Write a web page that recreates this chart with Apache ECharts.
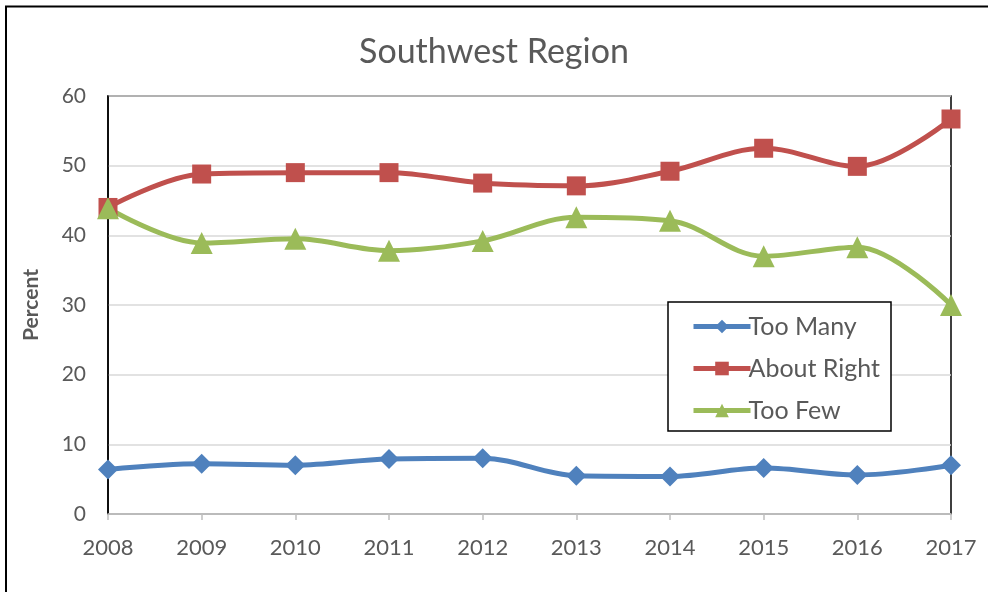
<!DOCTYPE html>
<html>
<head>
<meta charset="utf-8">
<script src="https://cdn.jsdelivr.net/npm/echarts@6/dist/echarts.min.js"></script>
<style>html,body{margin:0;padding:0;background:#fff}#c{width:988px;height:592px}</style>
</head>
<body>
<div id="c"></div>
<script>
const years = ['2008','2009','2010','2011','2012','2013','2014','2015','2016','2017'];
const tooMany = [6.4, 7.2, 7.0, 7.9, 8.0, 5.5, 5.4, 6.6, 5.6, 7.0];
const aboutRight = [44.0, 48.8, 49.0, 49.0, 47.5, 47.1, 49.2, 52.5, 49.9, 56.7];
const tooFew = [43.9, 38.9, 39.5, 37.8, 39.2, 42.6, 42.1, 37.0, 38.3, 30.0];
const yTicks = [0, 10, 20, 30, 40, 50, 60];

const FONT = 'Lato, "Open Sans", sans-serif';
const chart = echarts.init(document.getElementById('c'));
function ser(name, data, color, symbol, size) {
  return {
    name, type: 'line', data, smooth: 0.35,
    symbol, symbolSize: size,
    lineStyle: { color, width: 5 },
    itemStyle: { color },
    z: 3
  };
}
chart.setOption({
  animation: false,
  backgroundColor: '#fff',
  title: {
    text: 'Southwest Region', left: 'center', top: 30,
    textStyle: { fontFamily: FONT, fontSize: 34, fontWeight: 'normal', color: '#595959' }
  },
  grid: { left: 108, right: 37, top: 96, bottom: 78, show: true, borderColor: '#000', borderWidth: 1.5 },
  xAxis: {
    type: 'category', data: years, boundaryGap: false,
    axisLine: { lineStyle: { color: '#bfbfbf', width: 1.5 } },
    axisTick: { show: true, length: 6, lineStyle: { color: '#bfbfbf', width: 1.5 }, alignWithLabel: true },
    axisLabel: { fontFamily: FONT, fontSize: 22, color: '#595959', margin: 23 },
    splitLine: { show: false }
  },
  yAxis: {
    type: 'value', min: yTicks[0], max: yTicks[yTicks.length - 1], interval: 10,
    name: 'Percent', nameLocation: 'middle', nameGap: 66,
    nameTextStyle: { fontFamily: FONT, fontSize: 21, fontWeight: 'bold', color: '#595959' },
    axisLine: { show: true, lineStyle: { color: '#000', width: 1.5 } },
    axisTick: { show: false },
    axisLabel: { fontFamily: FONT, fontSize: 21, color: '#595959', margin: 22 },
    splitLine: { lineStyle: { color: '#d9d9d9', width: 1.5 } }
  },
  legend: {
    orient: 'vertical', left: 686, top: 309, z: 10,
    itemWidth: 57, itemHeight: 17, itemGap: 17,
    lineStyle: { width: 5 },
    textStyle: { fontFamily: FONT, fontSize: 25, color: '#595959', lineHeight: 25, padding: [0, 0, 0, -7] },
    data: ['Too Many', 'About Right', 'Too Few']
  },
  graphic: [
    { type: 'rect', z: 5, shape: { x: 668, y: 302, width: 223, height: 129 }, style: { fill: '#fff', stroke: '#000', lineWidth: 1.5 } },
    { type: 'polyline', shape: { points: [[6, 592], [6, 6.5], [988, 6.5]] }, style: { fill: null, stroke: '#000', lineWidth: 2 } }
  ],
  series: [
    ser('Too Many', tooMany, '#4f81bd', 'diamond', 20),
    ser('About Right', aboutRight, '#c0504d', 'rect', 19),
    ser('Too Few', tooFew, '#9bbb59', 'triangle', 22)
  ]
});
</script>
</body>
</html>
